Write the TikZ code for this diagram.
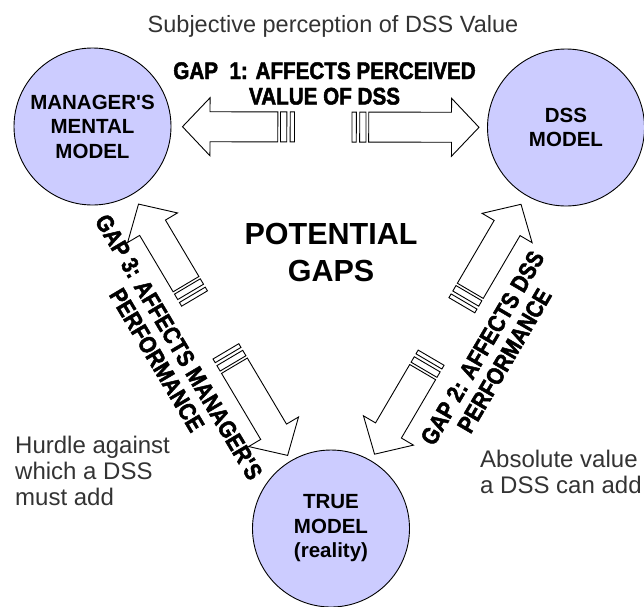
\documentclass[tikz,border=0pt]{standalone}
\usepackage{fontspec}
\setmainfont{Liberation Sans}
\newfontfamily\gapfont{Liberation Sans Bold}[FakeStretch=0.86,FakeBold=2]
\usepackage{xcolor}
\usetikzlibrary{calc}
\definecolor{modelfill}{RGB}{204,204,255}
\definecolor{notegray}{RGB}{51,51,51}
\tikzset{
  modelcircle/.style={draw, circle, fill=modelfill, line width=0.9pt, minimum size=157pt, inner sep=0pt, align=center, font=\bfseries\fontsize{20.5}{24.5}\selectfont},
  gaplabel/.style={align=center, inner sep=0pt, font=\gapfont\fontsize{24}{25.5}\selectfont},
  notetext/.style={align=left, inner sep=0pt, text=notegray, font=\fontsize{24}{26}\selectfont},
  arrowbody/.style={draw, fill=white, line width=0.9pt, line join=miter},
  % fat arrow along +x, tail (with two stripes) at the origin, tip at #1
  pics/stripearrow/.style={code={
    \pgfmathsetmacro\arrlen{#1}
    \path[arrowbody] (0,-15) rectangle (4.3,15) (7.7,-15) rectangle (14,15);
    \path[arrowbody] (16.7,-15) -- ({\arrlen-27.5},-15) -- ({\arrlen-27.5},-29) -- (\arrlen,0)
      -- ({\arrlen-27.5},29) -- ({\arrlen-27.5},15) -- (16.7,15) -- cycle;
  }}
}
% arrow pointing at circle #1, on the line to circle #2; tail and tip distances from #1
\newcommand{\stripearrow}[4]{%
  \path let \p1=($(#1)!#4!(#2)$), \p2=($(#1)!#3!(#2)$),
    \n1={atan2(\y1-\y2,\x1-\x2)}, \n2={veclen(\x1-\x2,\y1-\y2)}
    in (\p2) pic[rotate=\n1] {stripearrow=\n2};
}

\begin{document}
\begin{tikzpicture}[x=1pt,y=-1pt]
\useasboundingbox (0,0) rectangle (644,606);
\node[font=\fontsize{23.5}{28}\selectfont, text=notegray, anchor=base] (title) at (333,32) {Subjective perception of DSS Value};
\node[modelcircle] (mgr) at (92.5,126.5) {MANAGER\textquotesingle S\\MENTAL\\MODEL};
\node[modelcircle] (dss) at (566,127.5) {DSS\\MODEL};
\node[modelcircle] (real) at (331,528.5) {TRUE\\MODEL\\(reality)};
\node[align=center, inner sep=0pt, font=\bfseries\fontsize{30.5}{37}\selectfont] (gaps) at (331,252.5) {POTENTIAL\\GAPS};
\foreach \tgt/\src/\tail/\tip in {mgr/dss/202/90, dss/mgr/214/87, mgr/real/200/90, real/mgr/206/85, dss/real/206/89, real/dss/198/86} {
  \stripearrow{\tgt}{\src}{\tail pt}{\tip pt}
}
\node[gaplabel] (gap1) at ($(mgr)!0.49!(dss)+(0,-43.5)$) {GAP\ \ 1: AFFECTS PERCEIVED\\VALUE OF DSS};
\node[gaplabel, rotate=-59.3] (gap3) at ($(mgr)!0.5!(real)!51pt!-90:(real)$) {GAP 3: AFFECTS MANAGER\textquotesingle S\\PERFORMANCE};
\node[gaplabel, rotate=59.6] (gap2) at ($(dss)!0.5!(real)!52pt!90:(real)$) {GAP 2: AFFECTS DSS\\PERFORMANCE};
\node[notetext, anchor=north west] (hurdle) at (15,435.5) {Hurdle against\\which a DSS\\must add};
\node[notetext, anchor=north west] (absolute) at (480,449.5) {Absolute value\\a DSS can add};
\end{tikzpicture}
\end{document}
